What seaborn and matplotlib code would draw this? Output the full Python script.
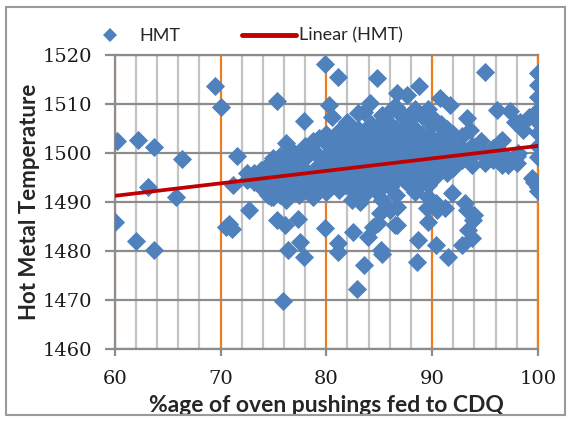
import numpy as np
import pandas as pd
import seaborn as sns
import matplotlib.pyplot as plt
from matplotlib.lines import Line2D
from matplotlib.patches import Rectangle


# %age of oven pushings fed to CDQ (x) and hot metal temperature (y)
cdq_pct = [
    # left, sparse
    60.0, 60.2, 62.2, 63.7, 66.4, 63.1, 65.8, 62.0, 63.7, 69.5, 70.0, 70.5, 70.8, 71.1,
    71.6, 71.2, 72.7,
    # upper, sparse
    75.3, 79.9, 81.1, 84.8, 80.3, 80.5, 77.9, 84.1, 83.6, 86.7, 86.3, 85.3, 83.0, 82.0,
    95.0, 88.8, 87.6, 90.7, 91.7, 96.1, 97.4, 98.3, 93.3, 93.6, 96.4, 97.2, 89.5, 90.0,
    90.4, 87.1, 85.2, 96.6, 98.1,
    # right edge
    100.0, 100.0, 100.0, 100.0, 100.0, 100.0, 100.0, 100.0, 99.4, 100.0, 99.6, 100.0,
    99.2, 98.6, 97.8,
    # lower, sparse
    74.8, 75.3, 76.1, 77.3, 77.5, 76.4, 77.9, 75.9, 79.9, 81.1, 81.1, 82.5, 83.6, 82.9,
    84.9, 83.9, 85.2, 85.3, 86.5, 84.4, 85.1, 86.0, 86.7, 83.2, 85.3, 88.6, 88.7, 90.4,
    91.5, 92.8, 93.8, 93.4, 93.9, 93.3, 93.1, 94.0, 89.5, 89.6, 90.5, 90.4, 91.2, 86.7,
    91.9,
    # dense middle
    72.5, 72.5, 73.2, 73.2, 73.8, 73.8, 73.8, 74.5, 74.5, 74.5, 74.5,
    75.0, 75.0, 75.0, 75.0, 75.0, 75.6, 75.6, 75.6, 75.6, 75.6,
    76.2, 76.2, 76.2, 76.2, 76.2, 76.2, 76.8, 76.8, 76.8, 76.8, 76.8,
    77.4, 77.4, 77.4, 77.4, 77.4, 78.0, 78.0, 78.0, 78.0, 78.0,
    78.7, 78.7, 78.7, 78.7, 78.7, 79.3, 79.3, 79.3, 79.3, 79.3,
    80.0, 80.0, 80.0, 80.0, 80.0, 80.0, 80.6, 80.6, 80.6, 80.6, 80.6,
    81.2, 81.2, 81.2, 81.2, 81.2, 81.2, 81.8, 81.8, 81.8, 81.8, 81.8,
    82.4, 82.4, 82.4, 82.4, 82.4, 82.4, 83.0, 83.0, 83.0, 83.0, 83.0, 83.0,
    83.6, 83.6, 83.6, 83.6, 83.6, 83.6, 84.2, 84.2, 84.2, 84.2, 84.2, 84.2,
    84.8, 84.8, 84.8, 84.8, 84.8, 84.8, 85.4, 85.4, 85.4, 85.4, 85.4, 85.4,
    86.0, 86.0, 86.0, 86.0, 86.0, 86.0, 86.6, 86.6, 86.6, 86.6, 86.6, 86.6, 86.6,
    87.2, 87.2, 87.2, 87.2, 87.2, 87.2, 87.8, 87.8, 87.8, 87.8, 87.8, 87.8,
    88.4, 88.4, 88.4, 88.4, 88.4, 88.4, 88.4, 89.0, 89.0, 89.0, 89.0, 89.0, 89.0,
    89.6, 89.6, 89.6, 89.6, 89.6, 89.6, 89.6, 90.2, 90.2, 90.2, 90.2, 90.2,
    90.8, 90.8, 90.8, 90.8, 90.8, 91.4, 91.4, 91.4, 91.4, 92.0, 92.0, 92.0, 92.0,
    92.8, 92.8, 92.8, 93.8, 93.8, 93.8, 94.6, 94.6, 95.0, 95.0, 95.8, 95.8,
    96.6, 96.6, 98.0, 98.0,
]
hmt = [
    1486.0, 1502.5, 1502.6, 1501.2, 1498.8, 1493.0, 1491.0, 1482.0, 1480.2, 1513.7, 1509.5,
    1485.0, 1485.5, 1484.6, 1499.4, 1493.4, 1488.4,
    1510.6, 1518.2, 1515.6, 1515.4, 1509.8, 1507.4, 1506.5, 1510.2, 1508.4, 1512.2, 1509.2,
    1507.8, 1508.2, 1506.3, 1516.6, 1513.7, 1511.8, 1511.2, 1509.8, 1508.8, 1508.5, 1506.3,
    1507.1, 1504.7, 1502.3, 1497.6, 1507.4, 1505.7, 1506.3, 1507.8, 1506.1, 1502.7, 1500.0,
    1516.3, 1513.9, 1511.4, 1508.8, 1506.3, 1504.1, 1501.5, 1499.2, 1495.0, 1493.1, 1494.0,
    1492.2, 1507.4, 1504.7, 1506.3,
    1491.0, 1486.3, 1485.3, 1486.5, 1481.8, 1480.2, 1478.8, 1469.8, 1484.7, 1481.6, 1479.8,
    1483.8, 1477.1, 1472.2, 1485.7, 1482.9, 1480.2, 1479.4, 1485.3, 1484.9, 1487.8, 1488.4,
    1489.0, 1490.0, 1490.4, 1477.8, 1482.2, 1481.2, 1478.8, 1481.2, 1482.7, 1484.3, 1486.3,
    1488.4, 1489.8, 1487.3, 1488.8, 1486.0, 1488.4, 1489.8, 1488.8, 1485.3, 1491.8,
    1496.0, 1494.5, 1496.0, 1494.0, 1496.5, 1495.0, 1493.0, 1497.5, 1495.5, 1493.5, 1491.5,
    1499.0, 1496.5, 1494.5, 1493.0, 1491.0, 1499.5, 1497.5, 1495.5, 1493.5, 1491.5,
    1502.0, 1498.5, 1496.5, 1494.5, 1492.5, 1490.5, 1500.5, 1498.0, 1496.0, 1494.0, 1492.0,
    1499.5, 1497.5, 1495.5, 1493.5, 1491.5, 1501.5, 1499.0, 1496.5, 1494.5, 1492.5,
    1502.5, 1500.5, 1496.0, 1494.0, 1491.0, 1503.0, 1499.5, 1497.5, 1495.0, 1492.5,
    1504.0, 1502.0, 1499.5, 1497.0, 1494.5, 1492.0, 1503.0, 1501.5, 1498.5, 1496.0, 1493.5,
    1504.5, 1502.0, 1499.5, 1497.5, 1495.0, 1492.5, 1504.0, 1501.0, 1498.5, 1496.0, 1493.5,
    1503.5, 1500.0, 1497.5, 1495.0, 1492.5, 1490.5, 1505.0, 1502.0, 1500.0, 1498.0, 1495.5, 1493.0,
    1504.0, 1501.5, 1499.0, 1496.5, 1494.0, 1491.5, 1506.0, 1503.0, 1500.5, 1498.5, 1496.0, 1493.5,
    1505.0, 1503.0, 1501.0, 1498.0, 1495.0, 1492.0, 1507.5, 1504.0, 1501.5, 1499.0, 1496.5, 1494.0,
    1506.0, 1503.5, 1501.0, 1498.5, 1496.0, 1493.0, 1509.5, 1505.0, 1502.0, 1499.5, 1497.0, 1494.5, 1491.5,
    1508.0, 1504.5, 1502.5, 1500.0, 1497.5, 1495.0, 1506.5, 1504.0, 1501.5, 1499.0, 1496.5, 1493.5,
    1509.0, 1505.0, 1502.5, 1500.0, 1498.0, 1495.5, 1492.0, 1507.5, 1504.0, 1501.5, 1499.5, 1497.0, 1494.0,
    1509.0, 1503.0, 1501.0, 1498.5, 1496.0, 1493.5, 1491.0, 1507.0, 1502.5, 1500.0, 1497.5, 1495.0,
    1506.0, 1503.5, 1501.0, 1499.0, 1496.5, 1505.0, 1502.0, 1499.0, 1496.0, 1504.0, 1501.5, 1499.0, 1497.0,
    1503.5, 1501.0, 1498.5, 1501.5, 1499.5, 1497.5, 1502.5, 1500.5, 1499.5, 1498.0, 1498.5, 1501.0,
    1500.0, 1497.5, 1499.5, 1498.0,
]

x_ticks = [60, 70, 80, 90, 100]
y_ticks = [1460, 1470, 1480, 1490, 1500, 1510, 1520]

blue = "#4F81BD"
red = "#C00000"
orange = "#EE7D1E"
grey_minor = "#C3C3C3"
grey_major = "#8C8C8C"

df = pd.DataFrame({"cdq": cdq_pct, "hmt": hmt})

sns.set_theme(style="white")
plt.rcParams["font.family"] = ["DejaVu Serif"]

fig = plt.figure(figsize=(5.71, 4.21), dpi=100)
ax = fig.add_axes([0.201, 0.171, 0.741, 0.698])
ax.set_xlim(60, 100)
ax.set_ylim(1460, 1520)

sns.scatterplot(data=df, x="cdq", y="hmt", marker="D", s=95, color=blue,
                linewidth=0, ax=ax, zorder=3, legend=False)
sns.regplot(data=df, x="cdq", y="hmt", scatter=False, ci=None, truncate=False,
            color=red, line_kws={"lw": 2.7, "zorder": 4}, ax=ax)
ax.set_xlim(60, 100)
ax.set_ylim(1460, 1520)

# grid: grey every 2 %, orange every 10 %, grey every 10 degrees
ax.set_xticks(x_ticks)
ax.set_xticks(np.arange(60, 101, 2), minor=True)
ax.set_yticks(y_ticks)
ax.set_axisbelow(True)
ax.grid(True, which="minor", axis="x", color=grey_minor, lw=1.6)
ax.grid(True, which="major", axis="x", color=orange, lw=1.6)
ax.grid(True, which="major", axis="y", color=grey_major, lw=1.6)

for side in ["left", "bottom", "top"]:
    ax.spines[side].set_color(grey_major)
    ax.spines[side].set_linewidth(1.6)
ax.spines["right"].set_color(orange)
ax.spines["right"].set_linewidth(1.6)

ax.tick_params(axis="y", which="major", left=True, length=7, width=1.6,
               color=grey_major, pad=9, labelsize=14, labelcolor="#1a1a1a")
ax.tick_params(axis="x", which="major", bottom=True, length=5, width=1.6,
               color=grey_major, pad=10, labelsize=14, labelcolor="#1a1a1a")
ax.tick_params(axis="x", which="minor", length=0)

ax.set_xlabel("%age of oven pushings fed to CDQ", family="Lato",
              fontweight="bold", fontsize=16.5, labelpad=5)
ax.set_ylabel("Hot Metal Temperature", family="Lato",
              fontweight="bold", fontsize=16, labelpad=2)

handles = [
    Line2D([], [], ls="none", marker="D", ms=7.5, color=blue, mew=0),
    Line2D([], [], color=red, lw=3.5),
]
fig.legend(handles, ["HMT", "Linear (HMT)"], loc="center", ncol=2,
           bbox_to_anchor=(0.425, 0.915), frameon=False,
           prop={"family": "Lato", "size": 13}, handlelength=3.0,
           handletextpad=0.15, columnspacing=3.4)

fig.patches.append(Rectangle((0.01, 0.015), 0.98, 0.968, transform=fig.transFigure,
                             fill=False, edgecolor="#9a9a9a", lw=1.5))

fig.savefig("out.png", dpi=100)
